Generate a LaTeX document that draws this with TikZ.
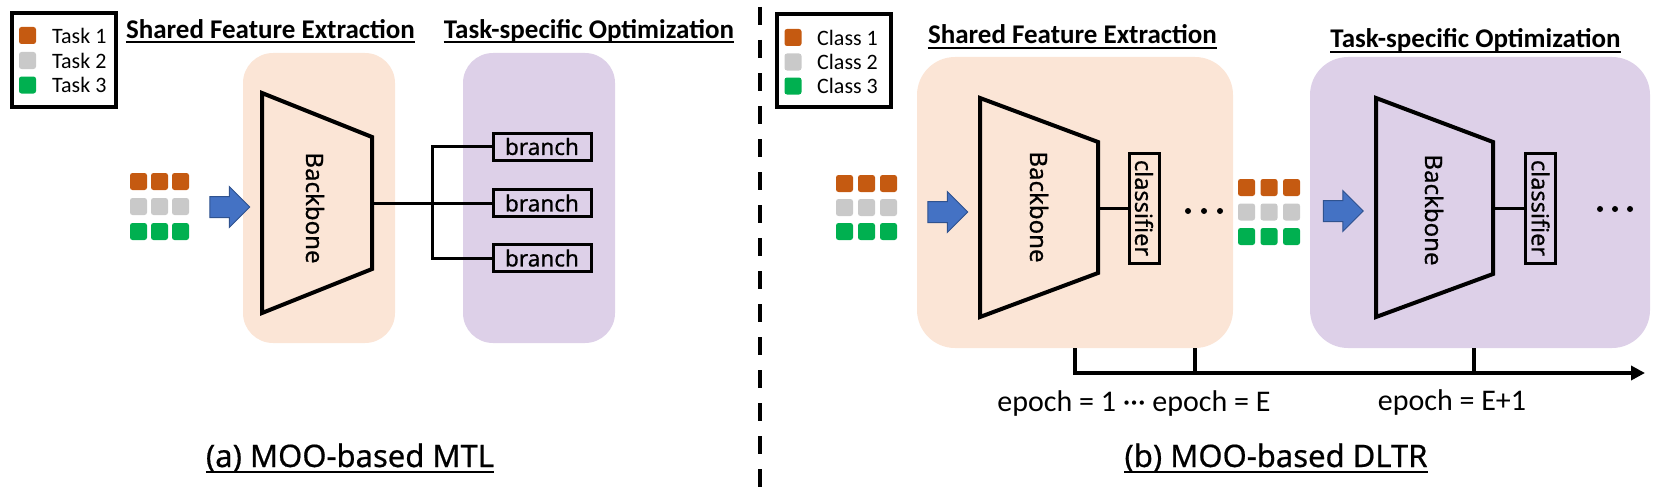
\documentclass[tikz,border=0pt]{standalone}
\usepackage{fontspec}
\setmainfont{Carlito}
\newfontfamily\capfont[FakeBold=0.6]{Noto Sans}
\usetikzlibrary{shapes.arrows,arrows.meta}

\definecolor{taskorange}{HTML}{C55A11}
\definecolor{taskgrey}{HTML}{C9C9C9}
\definecolor{taskgreen}{HTML}{00B050}
\definecolor{sharedfill}{HTML}{FBE5D6}
\definecolor{taskfill}{HTML}{DDD0E8}
\definecolor{arrowblue}{HTML}{4472C4}
\definecolor{arrowedge}{HTML}{2F528F}

\tikzset{
  sq/.style={rounded corners=2.5pt, minimum size=17pt, inner sep=0pt},
  bgbox/.style={rounded corners=30pt, inner sep=0pt},
  ttl/.style={font=\fontsize{27}{32}\selectfont\bfseries, inner sep=0pt, anchor=base},
  uline/.style={line width=2pt},
  legbox/.style={draw, line width=4pt, inner sep=0pt},
  legtext/.style={font=\fontsize{22}{26}\selectfont, inner sep=0pt, anchor=west},
  bbone/.style={line width=4pt, line join=miter},
  bbtext/.style={font=\capfont\fontsize{24}{28}\selectfont, rotate=-90, inner sep=0pt},
  brbox/.style={draw, line width=3pt, minimum width=98pt, minimum height=27pt, inner sep=0pt, font=\capfont\fontsize{22.5}{26}\selectfont},
  clsbox/.style={draw, line width=3pt, rotate=-90, minimum width=110pt, minimum height=30pt, inner sep=0pt, font=\capfont\fontsize{23.5}{28}\selectfont},
  wire/.style={line width=3pt},
  blkarrow/.style={single arrow, draw=arrowedge, fill=arrowblue, line width=1pt, inner sep=0pt, minimum height=40pt, single arrow head extend=10pt},
  dot/.style={circle, fill, minimum size=6pt, inner sep=0pt},
  epochaxis/.style={line width=4.5pt},
  epochlbl/.style={font=\fontsize{30}{34}\selectfont, inner sep=0pt},
  capt/.style={font=\capfont\fontsize{31}{36}\selectfont, inner sep=0pt, anchor=base},
  sepline/.style={line width=4pt, dash pattern=on 18pt off 15pt, dash phase=26pt}
}

\begin{document}
\begin{tikzpicture}[x=1pt,y=-1pt]
    \useasboundingbox (0,0) rectangle (1661,495);

    % (a) background blocks
    \node[bgbox, fill=sharedfill, minimum width=152, minimum height=290] (shA) at (319,198) {};
    \node[bgbox, fill=taskfill, minimum width=152, minimum height=290] (tsA) at (539,198) {};

    % (b) background blocks
    \node[bgbox, rounded corners=38pt, fill=sharedfill, minimum width=316, minimum height=291] (shB) at (1075,202.5) {};
    \node[bgbox, rounded corners=38pt, fill=taskfill, minimum width=340, minimum height=291] (tsB) at (1480,202.5) {};

    % titles
    \node[ttl] (ttlA1) at (270.5,38) {Shared Feature Extraction};
    \node[ttl] (ttlA2) at (589,38) {Task-specific Optimization};
    \node[ttl] (ttlB1) at (1072.5,44) {Shared Feature Extraction};
    \node[ttl] (ttlB2) at (1475.5,48) {Task-specific Optimization};
    \draw[uline] ([yshift=-4pt]ttlA1.base west) -- ([yshift=-4pt]ttlA1.base east);
    \draw[uline] ([yshift=-4pt]ttlA2.base west) -- ([yshift=-4pt]ttlA2.base east);
    \draw[uline] ([yshift=-4pt]ttlB1.base west) -- ([yshift=-4pt]ttlB1.base east);
    \draw[uline] ([yshift=-4pt]ttlB2.base west) -- ([yshift=-4pt]ttlB2.base east);

    % legends
    \node[legbox, minimum width=104, minimum height=94] (legA) at (64,60) {};
    \node[sq, fill=taskorange] (legA1) at (27.5,35.5) {};
    \node[sq, fill=taskgrey] (legA2) at (27.5,60.5) {};
    \node[sq, fill=taskgreen] (legA3) at (27.5,85) {};
    \node[legtext] (legA1t) at (52,35.5) {Task 1};
    \node[legtext] (legA2t) at (52,60.5) {Task 2};
    \node[legtext] (legA3t) at (52,85) {Task 3};

    \node[legbox, minimum width=114, minimum height=93] (legB) at (834,60.5) {};
    \node[sq, fill=taskorange] (legB1) at (793,37.5) {};
    \node[sq, fill=taskgrey] (legB2) at (793,62) {};
    \node[sq, fill=taskgreen] (legB3) at (793,86) {};
    \node[legtext] (legB1t) at (817,37.5) {Class 1};
    \node[legtext] (legB2t) at (817,62) {Class 2};
    \node[legtext] (legB3t) at (817,86) {Class 3};

    % input samples
    \foreach \r/\col in {0/taskorange,1/taskgrey,2/taskgreen}
        \foreach \c in {0,1,2}
            \node[sq, fill=\col] (inA\r\c) at ({138.5+21*\c},{181.5+25*\r}) {};
    \foreach \r/\col in {0/taskorange,1/taskgrey,2/taskgreen}
        \foreach \c in {0,1,2}
            \node[sq, fill=\col] (inB\r\c) at ({844.5+22*\c},{183.5+24*\r}) {};
    \foreach \r/\col in {0/taskorange,1/taskgrey,2/taskgreen}
        \foreach \c in {0,1,2}
            \node[sq, fill=\col] (inC\r\c) at ({1246.5+22.5*\c},{187.5+24.5*\r}) {};

    \node[blkarrow] (arA) at (224.5,207) {\rule{0pt}{20pt}};
    \node[blkarrow] (arB1) at (942.5,212) {\rule{0pt}{20pt}};
    \node[blkarrow] (arB2) at (1338,211) {\rule{0pt}{20pt}};

    % (a) backbone and branches
    \draw[bbone] (262,93) -- (372,137) -- (372,269) -- (262,313) -- cycle;
    \node[bbtext] (bbA) at (315,208) {Backbone};
    \coordinate (bbAout) at (372,203);
    \coordinate (jA) at (432,203);

    \node[brbox] (brA1) at (542,146.5) {branch};
    \node[brbox] (brA2) at (542,203) {branch};
    \node[brbox] (brA3) at (542,258) {branch};

    \draw[wire] (bbAout) -- (brA2);
    \draw[wire] (jA) |- (brA1);
    \draw[wire] (jA) |- (brA3);

    % (b) first stage
    \draw[bbone] (980,98) -- (1098,142) -- (1098,273) -- (980,317) -- cycle;
    \node[bbtext] (bbB1) at (1039,207) {Backbone};
    \coordinate (bbB1out) at (1098,208);
    \node[clsbox] (clsB1) at (1144,208) {classifier};
    \draw[wire] (bbB1out) -- (clsB1);
    \foreach \i in {0,1,2}
        \node[dot] (dotB1\i) at ({1188+16*\i},211) {};

    % (b) second stage
    \draw[bbone] (1376,98) -- (1493,142) -- (1493,274) -- (1376,317) -- cycle;
    \node[bbtext] (bbB2) at (1434,210) {Backbone};
    \coordinate (bbB2out) at (1493,208);
    \node[clsbox] (clsB2) at (1540.5,208) {classifier};
    \draw[wire] (bbB2out) -- (clsB2);
    \foreach \i in {0,1,2}
        \node[dot] (dotB2\i) at ({1600+15*\i},209) {};

    % epoch axis
    \coordinate (ep1) at (1075,373);
    \coordinate (epE) at (1195,373);
    \coordinate (epE1) at (1474,373);
    \coordinate (axEnd) at (1645,373);
    \draw[epochaxis, -{Triangle[length=14pt,width=14pt]}] (ep1 |- shB.south) -- (ep1) -- (axEnd);
    \draw[epochaxis] (epE |- shB.south) -- (epE);
    \draw[epochaxis] (epE1 |- tsB.south) -- (epE1);
    \node[epochlbl] (lblE) at (1134,403) {epoch = 1 ··· epoch = E};
    \node[epochlbl] (lblE1) at (1452,402) {epoch = E+1};

    % separator
    \coordinate (sepTop) at (760,0);
    \coordinate (sepBot) at (760,495);
    \draw[sepline] (sepTop) -- (sepBot);

    % captions
    \node[capt] (capA) at (350,467) {(a) MOO-based MTL};
    \node[capt] (capB) at (1276,467) {(b) MOO-based DLTR};
    \draw[uline] ([yshift=-5pt]capA.base west) -- ([yshift=-5pt]capA.base east);
    \draw[uline] ([yshift=-5pt]capB.base west) -- ([yshift=-5pt]capB.base east);
\end{tikzpicture}
\end{document}
